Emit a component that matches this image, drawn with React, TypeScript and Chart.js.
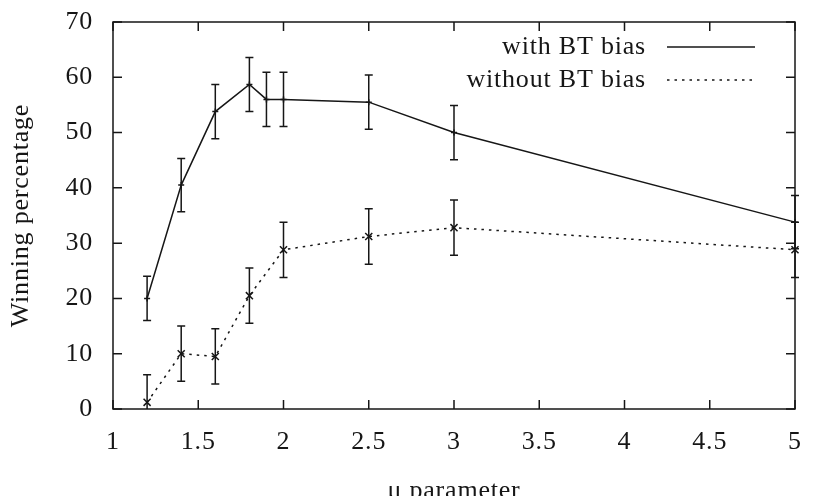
import { useEffect, useRef } from "react";
import { Chart, registerables } from "chart.js";

Chart.register(...registerables);

// Winning percentage against the mu parameter, with and without the BT bias.
const muWith = [1.2, 1.4, 1.6, 1.8, 1.9, 2.0, 2.5, 3.0, 5.0];
const winWith = [20.0, 40.5, 53.8, 58.7, 56.0, 56.0, 55.5, 50.0, 33.8];
const errWith = [4.0, 4.8, 4.9, 4.9, 4.9, 4.9, 4.9, 4.9, 4.8];

const muWithout = [1.2, 1.4, 1.6, 1.8, 2.0, 2.5, 3.0, 5.0];
const winWithout = [1.2, 10.0, 9.5, 20.5, 28.8, 31.2, 32.8, 28.8];
const errWithout = [5.0, 5.0, 5.0, 5.0, 5.0, 5.0, 5.0, 5.0];

const seriesNames = ["with BT bias", "without BT bias"];
const xMin = 1;
const xMax = 5;
const xStep = 0.5;
const yMin = 0;
const yMax = 70;
const yStep = 10;
const xTitle = "μ parameter";
const yTitle = "Winning percentage";

const FONT = "'Liberation Serif', 'Times New Roman', serif";
const FONT_SIZE = 26;
const INK = "#161616";

const seriesX = [muWith, muWithout];
const seriesY = [winWith, winWithout];
const seriesErr = [errWith, errWithout];

// Vertical error bars with short caps, clipped to the plot's vertical range.
const errorBarPlugin = {
  id: "errorBars",
  afterDatasetsDraw(chart: any) {
    const { ctx, chartArea, scales } = chart;
    const xs = scales.x;
    const ys = scales.y;
    ctx.save();
    ctx.beginPath();
    ctx.rect(0, chartArea.top, chart.width, chartArea.bottom - chartArea.top);
    ctx.clip();
    ctx.strokeStyle = INK;
    ctx.lineWidth = 1.5;
    ctx.setLineDash([]);
    const cap = 4;
    seriesX.forEach((xsArr, i) => {
      xsArr.forEach((xv, j) => {
        const v = seriesY[i][j];
        const e = seriesErr[i][j];
        const px = xs.getPixelForValue(xv);
        const pLo = ys.getPixelForValue(v - e);
        const pHi = ys.getPixelForValue(v + e);
        ctx.beginPath();
        ctx.moveTo(px, pLo);
        ctx.lineTo(px, pHi);
        ctx.moveTo(px - cap, pLo);
        ctx.lineTo(px + cap, pLo);
        ctx.moveTo(px - cap, pHi);
        ctx.lineTo(px + cap, pHi);
        ctx.stroke();
      });
    });
    ctx.restore();
  },
};

// Closed border with inward, mirrored tick marks, plus the key in the top right corner.
const framePlugin = {
  id: "frame",
  beforeDraw(chart: any) {
    chart.ctx.letterSpacing = "0.8px";
  },
  afterDraw(chart: any) {
    const { ctx, chartArea, scales } = chart;
    const { left, right, top, bottom } = chartArea;
    const tick = 9;
    ctx.save();
    ctx.strokeStyle = INK;
    ctx.lineWidth = 1.5;
    ctx.setLineDash([]);
    ctx.strokeRect(left, top, right - left, bottom - top);
    ctx.beginPath();
    scales.x.ticks.forEach((t: any) => {
      const px = scales.x.getPixelForValue(t.value);
      ctx.moveTo(px, bottom);
      ctx.lineTo(px, bottom - tick);
      ctx.moveTo(px, top);
      ctx.lineTo(px, top + tick);
    });
    scales.y.ticks.forEach((t: any) => {
      const py = scales.y.getPixelForValue(t.value);
      ctx.moveTo(left, py);
      ctx.lineTo(left + tick, py);
      ctx.moveTo(right, py);
      ctx.lineTo(right - tick, py);
    });
    ctx.stroke();

    // key
    ctx.font = `${FONT_SIZE}px ${FONT}`;
    ctx.fillStyle = INK;
    ctx.textAlign = "right";
    ctx.textBaseline = "middle";
    chart.data.datasets.forEach((ds: any, i: number) => {
      const y = top + 25 + i * 33;
      ctx.fillText(ds.label, right - 149, y);
      ctx.beginPath();
      ctx.setLineDash(ds.borderDash || []);
      ctx.lineWidth = ds.borderWidth;
      ctx.strokeStyle = ds.borderColor;
      ctx.moveTo(right - 128, y);
      ctx.lineTo(right - 40, y);
      ctx.stroke();
    });
    ctx.restore();
  },
};

export default function App() {
  const canvasRef = useRef<HTMLCanvasElement | null>(null);

  useEffect(() => {
    const canvas = canvasRef.current;
    if (!canvas) return;
    const chart = new Chart(canvas, {
      type: "line",
      data: {
        datasets: [
          {
            label: seriesNames[0],
            data: muWith.map((x, i) => ({ x, y: winWith[i] })),
            borderColor: INK,
            backgroundColor: INK,
            borderWidth: 1.5,
            pointStyle: "cross",
            pointRadius: 3,
            pointBorderWidth: 1.5,
            pointBorderColor: INK,
            fill: false,
            tension: 0,
            clip: false,
          },
          {
            label: seriesNames[1],
            data: muWithout.map((x, i) => ({ x, y: winWithout[i] })),
            borderColor: INK,
            backgroundColor: INK,
            borderWidth: 1.5,
            borderDash: [2.5, 5],
            pointStyle: "crossRot",
            pointRadius: 5,
            pointBorderWidth: 1.5,
            pointBorderColor: INK,
            fill: false,
            tension: 0,
            clip: false,
          },
        ],
      },
      options: {
        animation: false,
        responsive: false,
        maintainAspectRatio: false,
        layout: { padding: { left: 0, top: 22, right: 33, bottom: 0 } },
        plugins: {
          legend: { display: false },
          tooltip: { enabled: false },
        },
        scales: {
          x: {
            type: "linear",
            min: xMin,
            max: xMax,
            grid: { display: false, drawTicks: false },
            border: { display: false },
            ticks: {
              stepSize: xStep,
              padding: 18,
              color: INK,
              font: { family: FONT, size: FONT_SIZE },
              maxRotation: 0,
              callback: (v: any) => String(Number(v)),
            },
            title: {
              display: true,
              text: xTitle,
              color: INK,
              font: { family: FONT, size: FONT_SIZE, lineHeight: 0.38 },
              padding: 0,
            },
            afterFit(scale: any) {
              scale.height = 87;
              scale.paddingLeft = 0;
              scale.paddingRight = 0;
            },
          },
          y: {
            type: "linear",
            min: yMin,
            max: yMax,
            grid: { display: false, drawTicks: false },
            border: { display: false },
            ticks: {
              stepSize: yStep,
              padding: 20,
              color: INK,
              font: { family: FONT, size: FONT_SIZE },
            },
            title: {
              display: true,
              text: yTitle,
              color: INK,
              font: { family: FONT, size: FONT_SIZE, lineHeight: 1.2 },
              padding: { top: 6, bottom: 0 },
            },
            afterFit(scale: any) {
              scale.width = 113;
              scale.paddingTop = 0;
              scale.paddingBottom = 0;
            },
          },
        },
      },
      plugins: [errorBarPlugin, framePlugin],
    });
    return () => chart.destroy();
  }, []);

  return (
    <div style={{ position: "fixed", left: 0, top: 0, width: 828, height: 496, background: "#fff" }}>
      <canvas ref={canvasRef} width={828} height={496} />
    </div>
  );
}
